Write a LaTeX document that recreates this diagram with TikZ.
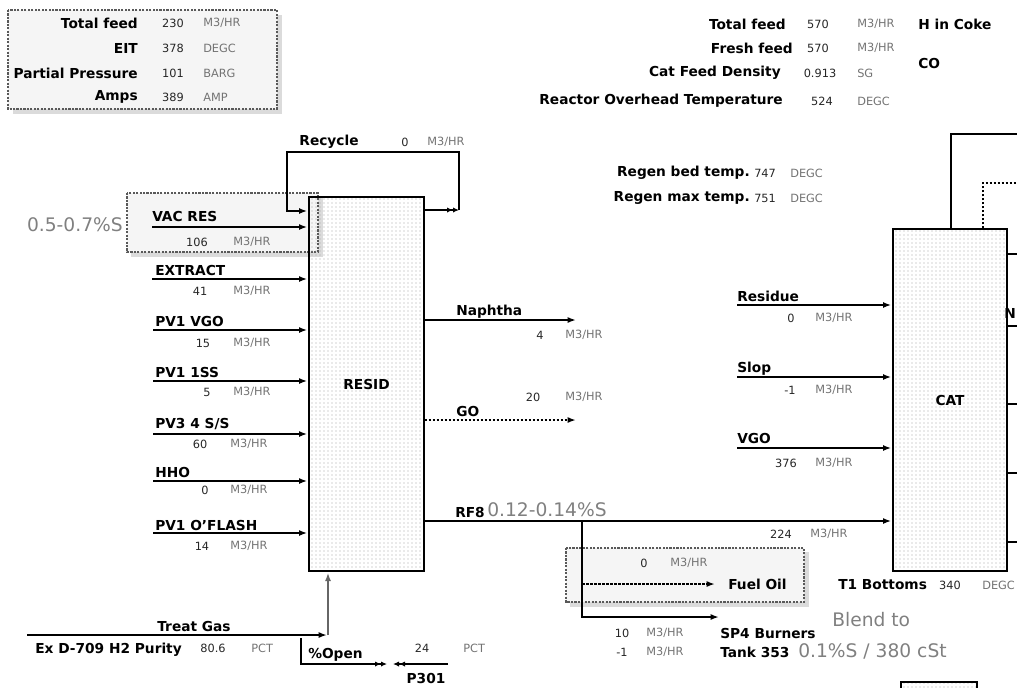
\documentclass[tikz,border=0pt]{standalone}
\usepackage{fontspec}
\setmainfont{DejaVu Sans}
\usepackage{tikz}
\usetikzlibrary{arrows.meta, patterns, positioning}
\tikzset{
  >=latex, % default arrow head
  lbl/.style={font=\fontsize{10.3}{12}\selectfont\bfseries,inner sep=0pt},
  val/.style={font=\fontsize{8.5}{10}\selectfont,text=black!85,inner sep=0pt},
  unit/.style={font=\fontsize{8.5}{10}\selectfont,text=black!55,inner sep=0pt,anchor=west},
  spec/.style={font=\fontsize{14}{16}\selectfont,text=black!50,inner sep=0pt,anchor=west},
  vessel/.style={draw,line width=1pt,pattern=dots,pattern color=black!35},
  hilite/.style={draw=black!65,line width=1.6pt,densely dotted,fill=black!4},
  shade/.style={fill=black!14},
  pipe/.style={line width=1pt},
  dpipe/.style={line width=1pt,dash pattern=on 2pt off 1pt},
  flow/.style={pipe,-{Latex[length=6pt,width=4.5pt]},shorten >=1pt},
  flow2/.style={pipe,-{Latex[length=4.5pt,width=4pt]Latex[length=4.5pt,width=4pt]}}
}

\begin{document}
\begin{tikzpicture}[x=0.75pt, y=-0.75pt]
  \useasboundingbox (0,0) rectangle (1017,687);
  \clip (0,0) rectangle (1017,687);

  % Reactor data box (top left)
  \fill[shade] (13,15) rectangle (282,114);
  \draw[hilite] (8,10) rectangle (277,109);
  \node[lbl,anchor=east] (tfeed) at (138,23) {Total feed};
  \node[val] (tfeed val) at (173,23) {230};
  \node[unit] (tfeed unit) at (203,23) {M3/HR};
  \node[lbl,anchor=east] (eit) at (138,48) {EIT};
  \node[val] (eit val) at (173,48) {378};
  \node[unit] (eit unit) at (203,48) {DEGC};
  \node[lbl,anchor=east] (ppress) at (138,73) {Partial Pressure};
  \node[val] (ppress val) at (173,73) {101};
  \node[unit] (ppress unit) at (203,73) {BARG};
  \node[lbl,anchor=east] (amps) at (138,97) {Amps};
  \node[val] (amps val) at (173,97) {389};
  \node[unit] (amps unit) at (203,97) {AMP};

  % Cat cracker data (top right)
  \node[lbl,anchor=east] (cfeed) at (786,24) {Total feed};
  \node[val] (cfeed val) at (818,24) {570};
  \node[unit] (cfeed unit) at (857,24) {M3/HR};
  \node[lbl,anchor=east] (ffeed) at (793,48) {Fresh feed};
  \node[val] (ffeed val) at (818,48) {570};
  \node[unit] (ffeed unit) at (857,48) {M3/HR};
  \node[lbl,anchor=east] (dens) at (781,73) {Cat Feed Density};
  \node[val] (dens val) at (820,73) {0.913};
  \node[unit] (dens unit) at (857,73) {SG};
  \node[lbl,anchor=east] (rot) at (783,101) {Reactor Overhead Temperature};
  \node[val] (rot val) at (822,101) {524};
  \node[unit] (rot unit) at (857,101) {DEGC};
  \node[lbl,anchor=west] (hcoke) at (918,24) {H in Coke};
  \node[lbl,anchor=west] (co) at (918,63) {CO};

  % Regenerator
  \node[lbl,anchor=east] (rbed) at (750,173) {Regen bed temp.};
  \node[val,anchor=west] (rbed val) at (754,173) {747};
  \node[unit] (rbed unit) at (790,173) {DEGC};
  \node[lbl,anchor=east] (rmax) at (750,198) {Regen max temp.};
  \node[val,anchor=west] (rmax val) at (754,198) {751};
  \node[unit] (rmax unit) at (790,198) {DEGC};

  % VAC RES highlight
  \fill[shade] (131,197) rectangle (323,257);
  \draw[hilite] (127,193) rectangle (318,252);
  \node[spec,anchor=east] (vacres spec) at (123,225) {0.5-0.7\%S};

  % Fuel oil highlight
  \fill[shade] (570,552) rectangle (809,607);
  \draw[hilite] (566,548) rectangle (804,602);

  % Units
  \node[vessel,lbl,minimum width=86.25pt,minimum height=280.5pt] (resid) at (366.5,384) {RESID};
  \node[vessel,lbl,minimum width=85.5pt,minimum height=256.5pt] (cat) at (950,400) {CAT};
  \draw[vessel] (901,682) rectangle (977,700);

  % Recycle
  \coordinate (rcy out) at (459,210);
  \coordinate (rcy top) at (287,152);
  \coordinate (rcy in) at (287,211);
  \draw[flow2] (resid.east |- rcy out) -- (rcy out);
  \draw[flow] (rcy out) |- (rcy top) -- (rcy in) -- (rcy in -| resid.west);
  \node[lbl] (rcy lbl) at (329,142) {Recycle};
  \node[val] (rcy val) at (405,142) {0};
  \node[unit] (rcy unit) at (427,142) {M3/HR};

  % Feeds to RESID
  \coordinate (vacres) at (152,227);
  \draw[flow] (vacres) -- (vacres -| resid.west);
  \node[lbl,anchor=west] (vacres lbl) at (152,216) {VAC RES};
  \node[val] (vacres val) at (197,242) {106};
  \node[unit] (vacres unit) at (233,242) {M3/HR};

  \coordinate (extr) at (152,279);
  \draw[flow] (extr) -- (extr -| resid.west);
  \node[lbl,anchor=west] (extr lbl) at (155,270) {EXTRACT};
  \node[val] (extr val) at (200,291) {41};
  \node[unit] (extr unit) at (233,291) {M3/HR};

  \coordinate (pvgo) at (153,330);
  \draw[flow] (pvgo) -- (pvgo -| resid.west);
  \node[lbl,anchor=west] (pvgo lbl) at (155,321) {PV1 VGO};
  \node[val] (pvgo val) at (203,343) {15};
  \node[unit] (pvgo unit) at (233,343) {M3/HR};

  \coordinate (pss) at (153,381);
  \draw[flow] (pss) -- (pss -| resid.west);
  \node[lbl,anchor=west] (pss lbl) at (155,372) {PV1 1SS};
  \node[val] (pss val) at (207,392) {5};
  \node[unit] (pss unit) at (233,392) {M3/HR};

  \coordinate (p34) at (153,434);
  \draw[flow] (p34) -- (p34 -| resid.west);
  \node[lbl,anchor=west] (p34 lbl) at (155,424) {PV3 4 S/S};
  \node[val] (p34 val) at (200,444) {60};
  \node[unit] (p34 unit) at (230,444) {M3/HR};

  \coordinate (hho) at (153,481);
  \draw[flow] (hho) -- (hho -| resid.west);
  \node[lbl,anchor=west] (hho lbl) at (155,472) {HHO};
  \node[val] (hho val) at (205,490) {0};
  \node[unit] (hho unit) at (230,490) {M3/HR};

  \coordinate (oflash) at (153,533);
  \draw[flow] (oflash) -- (oflash -| resid.west);
  \node[lbl,anchor=west] (oflash lbl) at (155,525) {PV1 O'FLASH};
  \node[val] (oflash val) at (202,546) {14};
  \node[unit] (oflash unit) at (230,546) {M3/HR};

  % Treat gas
  \coordinate (tg start) at (27,635);
  \coordinate (tg tee) at (328,635);
  \draw[flow] (tg start) -- (tg tee);
  \draw[flow,black!60] (tg tee) -- (tg tee |- resid.south);
  \node[lbl] (tg lbl) at (194,626) {Treat Gas};
  \node[lbl,anchor=west] (h2pur) at (35,650) {Ex D-709 H2 Purity};
  \node[val] (h2pur val) at (213,648) {80.6};
  \node[unit] (h2pur unit) at (251,648) {PCT};

  % Valve
  \coordinate (op top) at (301,638);
  \coordinate (op end) at (387,664);
  \draw[flow2] (op top) |- (op end);
  \node[lbl,anchor=west] (op lbl) at (308,655) {\%Open};
  \coordinate (p301 start) at (448,664);
  \coordinate (p301 end) at (393,664);
  \draw[flow2] (p301 start) -- (p301 end);
  \node[val] (p301 val) at (422,648) {24};
  \node[unit] (p301 unit) at (463,648) {PCT};
  \node[lbl] (p301 lbl) at (426,678) {P301};

  % RESID products
  \coordinate (naph) at (577,320);
  \draw[flow] (resid.east |- naph) -- (naph);
  \node[lbl,anchor=west] (naph lbl) at (456,312) {Naphtha};
  \node[val] (naph val) at (540,335) {4};
  \node[unit] (naph unit) at (565,335) {M3/HR};

  \coordinate (go) at (577,420);
  \draw[flow,dpipe] (resid.east |- go) -- (go);
  \node[lbl,anchor=west] (go lbl) at (456,411) {GO};
  \node[val] (go val) at (533,397) {20};
  \node[unit] (go unit) at (565,397) {M3/HR};

  \coordinate (rf8) at (450,521);
  \draw[flow] (rf8 -| resid.east) -- (rf8 -| cat.west);
  \node[lbl,anchor=west] (rf8 lbl) at (455,512) {RF8};
  \node[spec] (rf8 spec) at (487,510) {0.12-0.14\%S};
  \node[val] (rf8 val) at (781,534) {224};
  \node[unit] (rf8 unit) at (810,534) {M3/HR};

  % Fuel oil and burners
  \coordinate (tee) at (582,521);
  \coordinate (fo) at (716,584);
  \coordinate (sp4) at (720,617);
  \draw[flow] (tee) |- (sp4);
  \draw[flow,dpipe] (tee |- fo) -- (fo);
  \node[lbl,anchor=west] (fo lbl) at (728,584) {Fuel Oil};
  \node[val] (fo val) at (644,563) {0};
  \node[unit] (fo unit) at (670,563) {M3/HR};
  \node[lbl,anchor=west] (sp4 lbl) at (720,633) {SP4 Burners};
  \node[val] (sp4 val) at (622,633) {10};
  \node[unit] (sp4 unit) at (646,633) {M3/HR};
  \node[lbl,anchor=west] (tank) at (720,652) {Tank 353};
  \node[val] (tank val) at (622,652) {-1};
  \node[unit] (tank unit) at (646,652) {M3/HR};
  \node[spec] (blend) at (832,620) {Blend to};
  \node[spec] (tank spec) at (798,651) {0.1\%S / 380 cSt};

  % Feeds to CAT
  \coordinate (resd) at (737,305);
  \draw[flow] (resd) -- (resd -| cat.west);
  \node[lbl,anchor=west] (resd lbl) at (737,296) {Residue};
  \node[val] (resd val) at (791,318) {0};
  \node[unit] (resd unit) at (815,318) {M3/HR};

  \coordinate (slop) at (737,377);
  \draw[flow] (slop) -- (slop -| cat.west);
  \node[lbl,anchor=west] (slop lbl) at (737,369) {Slop};
  \node[val] (slop val) at (790,390) {-1};
  \node[unit] (slop unit) at (815,390) {M3/HR};

  \coordinate (vgo) at (737,448);
  \draw[flow] (vgo) -- (vgo -| cat.west);
  \node[lbl,anchor=west] (vgo lbl) at (737,438) {VGO};
  \node[val] (vgo val) at (786,463) {376};
  \node[unit] (vgo unit) at (815,463) {M3/HR};

  \node[lbl,anchor=west] (t1bot) at (838,585) {T1 Bottoms};
  \node[val] (t1bot val) at (950,585) {340};
  \node[unit] (t1bot unit) at (982,585) {DEGC};

  % CAT overhead and side draws
  \coordinate (cat up1) at (951,134);
  \coordinate (cat up2) at (983,183);
  \coordinate (edge1) at (1030,134);
  \coordinate (edge2) at (1030,183);
  \draw[pipe] (cat.north -| cat up1) -- (cat up1) -- (edge1);
  \draw[dpipe] (cat.north -| cat up2) -- (cat up2) -- (edge2);
  \coordinate (side1) at (1020,254);
  \coordinate (side2) at (1020,326);
  \coordinate (side3) at (1020,404);
  \coordinate (side4) at (1020,473);
  \coordinate (side5) at (1020,542);
  \draw[pipe] (side1 -| cat.east) -- (side1);
  \draw[pipe] (side2 -| cat.east) -- (side2);
  \draw[pipe] (side3 -| cat.east) -- (side3);
  \draw[pipe] (side4 -| cat.east) -- (side4);
  \draw[pipe] (side5 -| cat.east) -- (side5);
  \node[lbl,anchor=east] (side lbl) at (1016,313) {N};
\end{tikzpicture}
\end{document}
